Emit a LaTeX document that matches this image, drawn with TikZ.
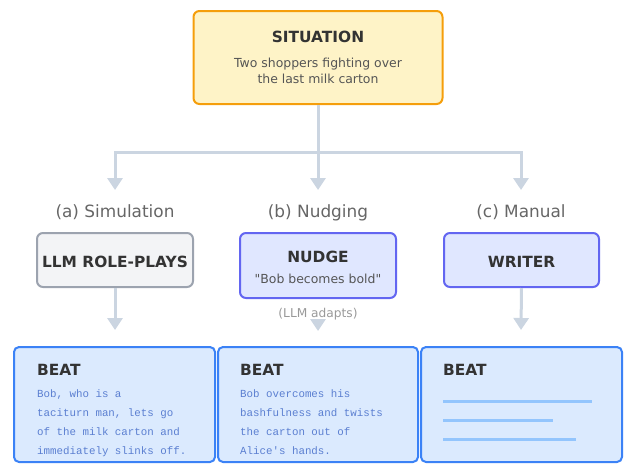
\documentclass[tikz,border=0pt]{standalone}
\usepackage{fontspec}
\setmainfont{DejaVu Sans}
\setmonofont{Liberation Mono}
\newfontfamily\plainsans{DejaVu Sans}[Ligatures=TeXOff]
\usetikzlibrary{arrows.meta}
\definecolor{sitfill}{HTML}{FEF3C7}
\definecolor{sitline}{HTML}{F59E0B}
\definecolor{simfill}{HTML}{F3F4F6}
\definecolor{simline}{HTML}{9CA3AF}
\definecolor{ndgfill}{HTML}{E0E7FF}
\definecolor{ndgline}{HTML}{6366F1}
\definecolor{beatfill}{HTML}{DBEAFE}
\definecolor{beatline}{HTML}{3B82F6}
\definecolor{sketchline}{HTML}{93C5FD}
\definecolor{flowgray}{HTML}{CBD5E1}
\definecolor{darktext}{HTML}{333333}
\definecolor{subtext}{HTML}{555555}
\definecolor{captext}{HTML}{666666}
\definecolor{notetext}{HTML}{999999}
\definecolor{monotext}{HTML}{5B7FD1}

\begin{document}
\begin{tikzpicture}
  [x=1pt,y=-1pt,
   box/.style={draw,rounded corners=6pt,line width=2pt,inner sep=0pt},
   head/.style={inner sep=0pt,anchor=base,text=darktext,font=\bfseries\fontsize{15.4}{18}\selectfont},
   sub/.style={inner sep=0pt,anchor=base,text=subtext,font=\plainsans\fontsize{12.45}{15}\selectfont},
   lane/.style={inner sep=0pt,anchor=base,text=captext,font=\fontsize{16.9}{20}\selectfont},
   note/.style={inner sep=0pt,anchor=base,text=notetext,font=\fontsize{12.2}{14}\selectfont},
   mono/.style={inner sep=0pt,anchor=base west,text=monotext,font=\ttfamily\fontsize{10.8}{19}\selectfont},
   trunk/.style={draw=flowgray,line width=3pt},
   flow/.style={trunk,-{Triangle[width=15pt,length=12pt]}},
   sketch/.style={draw=sketchline,line width=3pt}]
  \useasboundingbox (0,0) rectangle (624,464);

  \node[box,draw=sitline,fill=sitfill,minimum width=249pt,minimum height=93pt] (sit) at (318,57.5) {};
  \node[head] (sitt) at (318,42) {SITUATION};
  \node[sub] (sit1) at (318,67) {Two shoppers fighting over};
  \node[sub] (sit2) at (318,83) {the last milk carton};

  \coordinate (split) at (318,152);
  \coordinate (ta) at (115,190);
  \coordinate (tb) at (318,190);
  \coordinate (tc) at (521,190);
  \draw[trunk] (sit) -- (split);
  \foreach \to in {ta,tb,tc}
    \draw[flow] (split) -| (\to);

  \node[lane] (la) at (115,217) {(a) Simulation};
  \node[lane] (lb) at (318,217) {(b) Nudging};
  \node[lane] (lc) at (521,217) {(c) Manual};

  \node[box,draw=simline,fill=simfill,minimum width=156pt,minimum height=54pt] (sim) at (115,260) {};
  \node[head] (simt) at (115,267) {LLM ROLE-PLAYS};
  \node[box,draw=ndgline,fill=ndgfill,minimum width=156pt,minimum height=65pt] (ndg) at (318,265.5) {};
  \node[head] (ndgt) at (318,262) {NUDGE};
  \node[sub] (ndgq) at (318,283) {"Bob becomes bold"};
  \node[box,draw=ndgline,fill=ndgfill,minimum width=155pt,minimum height=54pt] (wrt) at (521.5,260) {};
  \node[head] (wrtt) at (521.5,267) {WRITER};
  \node[note] (adapts) at (318,317) {(LLM adapts)};

  \coordinate (ba) at (115,330);
  \coordinate (bb) at (318,331);
  \coordinate (bc) at (521,330);
  \foreach \from/\to in {sim/ba,adapts/bb,wrt/bc}
    \draw[flow] (\from.south) -- (\to);

  \node[box,draw=beatline,fill=beatfill,rounded corners=5pt,minimum width=201pt,minimum height=115pt] (beat1) at (114.5,404.5) {};
  \node[box,draw=beatline,fill=beatfill,rounded corners=5pt,minimum width=200pt,minimum height=115pt] (beat2) at (318,404.5) {};
  \node[box,draw=beatline,fill=beatfill,rounded corners=5pt,minimum width=201pt,minimum height=115pt] (beat3) at (521.5,404.5) {};
  \node[head,anchor=base west] (bt1) at (37,375) {BEAT};
  \node[head,anchor=base west] (bt2) at (240,375) {BEAT};
  \node[head,anchor=base west] (bt3) at (443,375) {BEAT};
  \foreach \txt [count=\i] in {{Bob, who is a},{taciturn man, lets go},{of the milk carton and},{immediately slinks off.}}
    \node[mono] (bl\i) at (37,378+19*\i) {\txt};
  \foreach \txt [count=\i] in {{Bob overcomes his},{bashfulness and twists},{the carton out of},{Alice's hands.}}
    \node[mono] (bm\i) at (240,378+19*\i) {\txt};
  \foreach \len [count=\i] in {149,110,133}
    \draw[sketch] (443,382+19*\i) -- ++(\len,0);
\end{tikzpicture}
\end{document}
